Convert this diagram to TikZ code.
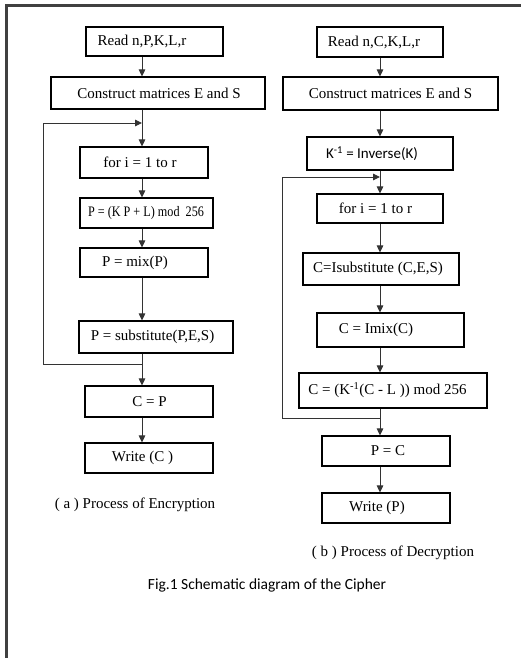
\documentclass[tikz,border=0pt]{standalone}
\usepackage{fontspec}
\usepackage{graphicx}
\setmainfont{Liberation Serif}
\newfontfamily\calib{Carlito}
\usetikzlibrary{arrows.meta}
\begin{document}
\begin{tikzpicture}[x=1pt,y=-1pt,
  box/.style={draw=black, line width=1.1pt, rectangle, inner sep=0pt},
  txt/.style={font=\fontsize{15}{18}\selectfont, inner sep=0pt},
  ln/.style={draw=black!80, line width=0.9pt},
  arr/.style={draw=black!80, line width=0.9pt, -{Triangle[length=7pt,width=6.5pt]}}]
\useasboundingbox (0,0) rectangle (521,658);
\fill[white] (0,0) rectangle (521,658);
% frame
\draw[line width=2.2pt, black!75] (6.5,658) -- (6.5,5.5) -- (521,5.5);
% axes
\coordinate (axL) at (142,0);
\coordinate (axR) at (380,0);
% ---------- left column ----------
\node[box, minimum width=137pt, minimum height=29pt] (readL) at (154.5,41.5) {};
\node[txt] (readLt) at (142,41.5) {Read n,P,K,L,r};
\node[box, minimum width=214pt, minimum height=32pt] (consL) at (158,93) {};
\node[txt] (consLt) at (159,93) {Construct matrices E and S};
\node[box, minimum width=128pt, minimum height=31pt] (forL) at (144,162.5) {};
\node[txt] (forLt) at (140,162.5) {for i = 1 to r};
\node[box, minimum width=133pt, minimum height=30pt] (pklL) at (146.5,213) {};
\node[txt, font=\fontsize{14.5}{17}\selectfont] (pklLt) at (146,213) {\scalebox{0.84}[1]{P = (K P + L) mod\ \ 256}};
\node[box, minimum width=128pt, minimum height=29pt] (mixL) at (144,262.5) {};
\node[txt] (mixLt) at (135,262.5) {P = mix(P)};
\node[box, minimum width=154pt, minimum height=32pt] (subL) at (156,337) {};
\node[txt] (subLt) at (152.5,337) {P = substitute(P,E,S)};
\node[box, minimum width=128pt, minimum height=31pt] (cpL) at (149,401.5) {};
\node[txt] (cpLt) at (149.5,401.5) {C = P};
\node[box, minimum width=128pt, minimum height=30pt] (wrL) at (149,458) {};
\node[txt] (wrLt) at (142.5,458) {Write (C )};
\node[txt] (capA) at (135,505) {( a ) Process of Encryption};
\coordinate (jL1) at (142,123);
\coordinate (jL2) at (142,364);
\coordinate (cL1) at (43,364);
\coordinate (cL2) at (43,123);
\draw[arr] (readL.south -| axL) -- (consL.north -| axL);
\draw[arr] (consL.south -| axL) -- (forL.north -| axL);
\draw[arr] (forL.south -| axL) -- (pklL.north -| axL);
\draw[arr] (pklL.south -| axL) -- (mixL.north -| axL);
\draw[arr] (mixL.south -| axL) -- (subL.north -| axL);
\draw[arr] (subL.south -| axL) -- (cpL.north -| axL);
\draw[arr] (cpL.south -| axL) -- (wrL.north -| axL);
\draw[arr] (jL2) -- (cL1) -- (cL2) -- (jL1);
% ---------- right column ----------
\node[box, minimum width=126pt, minimum height=30pt] (readR) at (380,42) {};
\node[txt] (readRt) at (374,42) {Read n,C,K,L,r};
\node[box, minimum width=215pt, minimum height=33pt] (consR) at (390.5,93.5) {};
\node[txt] (consRt) at (390.5,93.5) {Construct matrices E and S};
\node[box, minimum width=146pt, minimum height=33pt] (invR) at (380,153.5) {};
\node[txt, font=\calib\fontsize{15}{18}\selectfont] (invRt) at (372,153.5) {K\textsuperscript{-1} = Inverse(K)};
\node[box, minimum width=126pt, minimum height=29pt] (forR) at (380,208.5) {};
\node[txt] (forRt) at (375.5,208.5) {for i = 1 to r};
\node[box, minimum width=156pt, minimum height=32pt] (isubR) at (381,269) {};
\node[txt] (isubRt) at (378,269) {C=Isubstitute (C,E,S)};
\node[box, minimum width=147pt, minimum height=34pt] (imixR) at (390.5,330) {};
\node[txt] (imixRt) at (376,330) {C = Imix(C)};
\node[box, minimum width=188pt, minimum height=35pt] (invmR) at (393,390.5) {};
\node[txt] (invmRt) at (387.5,390.5) {C = (K\textsuperscript{-1}(C - L )) mod 256};
\node[box, minimum width=128pt, minimum height=30pt] (pcR) at (386,451) {};
\node[txt] (pcRt) at (388,451) {P = C};
\node[box, minimum width=128pt, minimum height=30pt] (wrR) at (386,508) {};
\node[txt] (wrRt) at (377,508) {Write (P)};
\node[txt] (capB) at (393,553) {( b ) Process of Decryption};
\coordinate (jR1) at (380,177);
\coordinate (jR2) at (380,418);
\coordinate (cR1) at (282,418);
\coordinate (cR2) at (282,177);
\draw[arr] (readR.south -| axR) -- (consR.north -| axR);
\draw[arr] (consR.south -| axR) -- (invR.north -| axR);
\draw[arr] (invR.south -| axR) -- (forR.north -| axR);
\draw[arr] (forR.south -| axR) -- (isubR.north -| axR);
\draw[arr] (isubR.south -| axR) -- (imixR.north -| axR);
\draw[arr] (imixR.south -| axR) -- (invmR.north -| axR);
\draw[arr] (invmR.south -| axR) -- (pcR.north -| axR);
\draw[arr] (pcR.south -| axR) -- (wrR.north -| axR);
\draw[arr] (jR2) -- (cR1) -- (cR2) -- (jR1);
% caption
\node[font=\calib\fontsize{15.5}{18}\selectfont, inner sep=0pt] (fig) at (267,585) {Fig.1 Schematic diagram of the Cipher};
\end{tikzpicture}
\end{document}
